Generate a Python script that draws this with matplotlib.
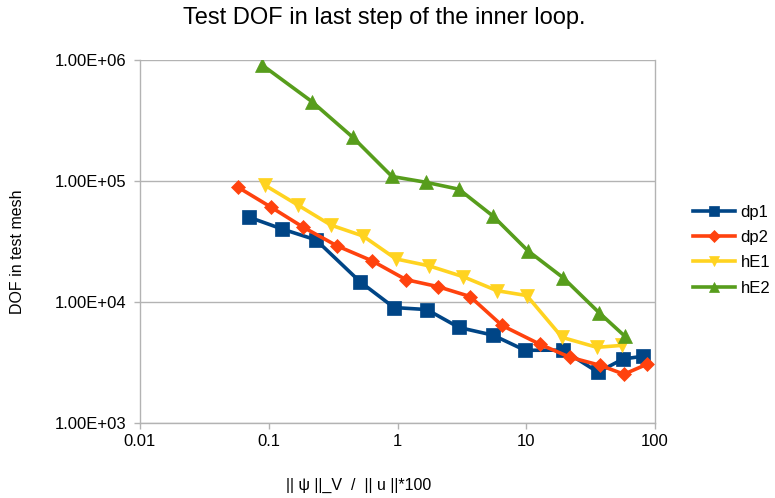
import matplotlib
matplotlib.use("Agg")
import matplotlib.pyplot as plt
from matplotlib.ticker import FixedLocator, FuncFormatter, NullLocator

plt.rcParams['font.family'] = ['Liberation Sans', 'DejaVu Sans']

# ---- data ----
dp1_x = [0.070, 0.127, 0.233, 0.512, 0.94, 1.69, 3.0, 5.52, 9.78, 19.3, 36.1, 56.4, 80.7]
dp1_y = [50300, 40100, 32600, 14700, 9000, 8660, 6160, 5320, 3990, 4000, 2630, 3380, 3560]

dp2_x = [0.0577, 0.1041, 0.1845, 0.339, 0.634, 1.164, 2.06, 3.66, 6.48, 12.8, 21.9, 37.4, 57.4, 86.7]
dp2_y = [88800, 60800, 41600, 29100, 21900, 15300, 13400, 11100, 6400, 4470, 3490, 3000, 2530, 3060]

hE1_x = [0.0935, 0.169, 0.304, 0.540, 0.973, 1.757, 3.23, 5.93, 10.1, 19.0, 35.4, 55.4]
hE1_y = [92200, 63100, 43200, 35100, 22700, 19900, 16200, 12400, 11300, 5100, 4220, 4380]

hE2_x = [0.0887, 0.217, 0.451, 0.906, 1.66, 3.0, 5.52, 10.3, 19.3, 36.7, 58.5]
hE2_y = [910000, 452000, 229000, 109000, 97600, 85500, 51300, 26500, 15900, 8180, 5200]

series_names = ["dp1", "dp2", "hE1", "hE2"]
x_ticks = [0.01, 0.1, 1, 10, 100]
x_tick_labels = ["0.01", "0.1", "1", "10", "100"]
y_ticks = [1e3, 1e4, 1e5, 1e6]

title = "Test DOF in last step of the inner loop."
xlabel = "|| ψ ||_V  /  || u ||*100"
ylabel = "DOF in test mesh"

# ---- figure ----
W, H = 775, 498
fig = plt.figure(figsize=(W/100, H/100), dpi=100)
ax = fig.add_axes([140/W, 1-423/H, 515/W, 363/H])

styles = [
    dict(color="#004586", marker="s", markersize=9.5),
    dict(color="#ff420e", marker="D", markersize=7.5),
    dict(color="#ffd320", marker="v", markersize=10.5),
    dict(color="#579d1c", marker="^", markersize=10.5),
]
data = [(dp1_x, dp1_y), (dp2_x, dp2_y), (hE1_x, hE1_y), (hE2_x, hE2_y)]
for (xs, ys), name, st in zip(data, series_names, styles):
    ax.plot(xs, ys, label=name, linewidth=2.6, markeredgewidth=0.5,
            markeredgecolor=st["color"], **st)

ax.set_xscale("log")
ax.set_yscale("log")
ax.set_xlim(0.01, 100)
ax.set_ylim(1e3, 1e6)

ax.xaxis.set_major_locator(FixedLocator(x_ticks))
ax.xaxis.set_minor_locator(NullLocator())
ax.yaxis.set_major_locator(FixedLocator(y_ticks))
ax.yaxis.set_minor_locator(NullLocator())
ax.xaxis.set_major_formatter(FuncFormatter(lambda v, p: x_tick_labels[x_ticks.index(v)] if v in x_ticks else ""))
ax.yaxis.set_major_formatter(FuncFormatter(lambda v, p: "%.2E" % v))

ax.grid(True, axis="y", color="#b3b3b3", linewidth=1.0)
ax.set_axisbelow(True)
for s in ax.spines.values():
    s.set_color("#b3b3b3")
    s.set_linewidth(1.0)
ax.spines["top"].set_visible(False)

ax.tick_params(axis="both", which="major", direction="out", length=4, width=1,
               color="#b3b3b3", labelsize=12, labelcolor="#000000")
ax.tick_params(axis="y", pad=6)
ax.tick_params(axis="x", pad=4)

fig.text(384/W, 1-18/H, title, fontsize=17, ha="center", va="center", color="#000000")
fig.text(359/W, 1-485/H, xlabel, fontsize=11.5, ha="center", va="center", color="#000000")
fig.text(18/W, 1-252/H, ylabel, fontsize=11.5, ha="center", va="center",
         rotation=90, color="#000000")

leg = ax.legend(loc="center left", bbox_to_anchor=((693-140)/515, (423-250)/363),
                frameon=False, borderpad=0, borderaxespad=0,
                fontsize=12, handlelength=2.5, handletextpad=0.36, labelspacing=0.62,
                markerscale=0.75)

fig.savefig("out.png", dpi=100, facecolor="white")
